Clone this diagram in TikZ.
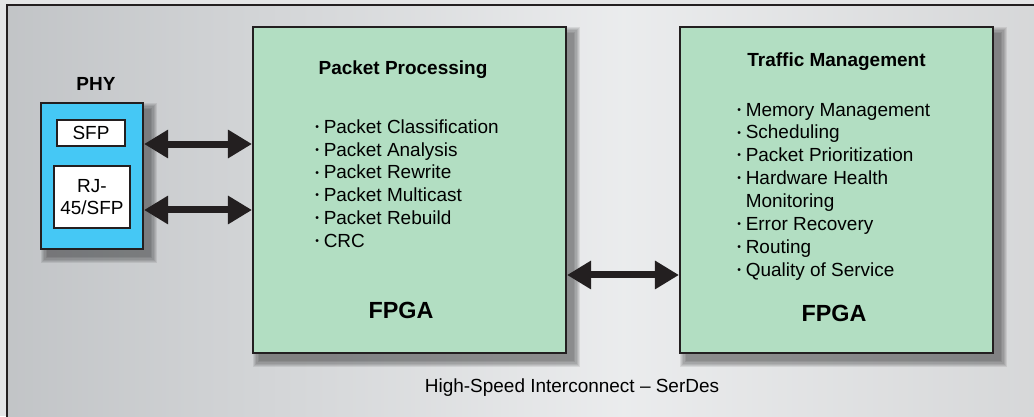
\documentclass[tikz,border=0pt]{standalone}
\usepackage{fontspec}
\setmainfont{Liberation Sans}
\usetikzlibrary{arrows.meta}
\definecolor{phyblue}{RGB}{69,200,245}
\definecolor{fpgagreen}{RGB}{178,222,194}
\definecolor{edge}{RGB}{35,31,32}
\definecolor{bgout}{RGB}{228,229,230}
\pgfdeclarehorizontalshading{panel}{100bp}{rgb(0bp)=(0.76,0.77,0.78); rgb(25bp)=(0.76,0.77,0.78);
  rgb(55bp)=(0.92,0.925,0.93); rgb(75bp)=(0.84,0.845,0.85); rgb(100bp)=(0.84,0.845,0.85)}
\pgfdeclarelayer{back}
\pgfdeclarelayer{shadow}
\pgfsetlayers{back,shadow,main}
\newcommand{\itm}{\raisebox{0.15em}{\scalebox{0.55}{\textbullet}}\hspace{0.25em}}

\begin{document}
\begin{tikzpicture}[x=0.02cm,y=-0.02cm,
  font=\fontsize{10.8}{13}\selectfont,
  box/.style={draw=edge,line width=1.2pt,fill=fpgagreen,minimum width=6.26cm,minimum height=6.52cm},
  phybox/.style={draw=edge,line width=1.2pt,fill=phyblue},
  portbox/.style={draw=edge,line width=1pt,fill=white,inner sep=0pt},
  title/.style={font=\bfseries\fontsize{10.8}{13}\selectfont},
  chip/.style={font=\bfseries\fontsize{13.3}{16}\selectfont},
  list/.style={align=left,inner sep=0pt,anchor=west},
  softshadow/.style={fill=black,opacity=0.08},
  biarrow/.style={draw=edge,line width=0.14cm,{Triangle[length=0.48cm,width=0.54cm]}-{Triangle[length=0.48cm,width=0.54cm]}}]
  \useasboundingbox (0,0) rectangle (1034,416);
  \begin{pgfonlayer}{back}
    \fill[bgout] (0,0) rectangle (1034,416);
    \shade[shading=panel] (7,5) rectangle (1034,416);
  \end{pgfonlayer}
  \draw[edge,line width=1.1pt] (7,430) -- (7,5) -- (1050,5);

  % PHY
  \node[phybox,minimum width=2.04cm,minimum height=2.92cm] (phy) at (92,176) {};
  \node[title] (phylabel) at (96,84) {PHY};
  \node[portbox,minimum width=1.36cm,minimum height=0.52cm] (sfp) at (91,133) {SFP};
  \node[portbox,minimum width=1.52cm,minimum height=1.24cm,align=center] (rj) at (92,197) {RJ-\\45/SFP};

  % FPGA blocks
  \node[box] (pp) at (409.5,190) {};
  \node[box] (tm) at (836.5,190) {};

  \node[title] (pptitle) at (403,70) {Packet Processing};
  \node[list] (pplist) at (315,183.5) {\itm Packet Classification\\
    \itm Packet Analysis\\
    \itm Packet Rewrite\\
    \itm Packet Multicast\\
    \itm Packet Rebuild\\
    \itm CRC};
  \node[chip] (ppchip) at (401,310) {FPGA};

  \node[title] (tmtitle) at (836.5,62) {Traffic Management};
  \node[list] (tmlist) at (737,191.5) {\itm Memory Management\\
    \itm Scheduling\\
    \itm Packet Prioritization\\
    \itm Hardware Health\\
    \phantom{\itm}Monitoring\\
    \itm Error Recovery\\
    \itm Routing\\
    \itm Quality of Service};
  \node[chip] (tmchip) at (834,313) {FPGA};

  \node (serdes) at (572,388) {High-Speed Interconnect – SerDes};

  % shadows
  \begin{pgfonlayer}{shadow}
    \foreach \n in {phy,pp,tm}
      \foreach \s in {0,...,5}
        \fill[softshadow] ([shift={(0.14cm-\s*0.025cm,-0.14cm-\s*0.025cm)}]\n.south west)
          rectangle ([shift={(0.14cm+\s*0.025cm,-0.14cm+\s*0.025cm)}]\n.north east);
  \end{pgfonlayer}

  % links
  \coordinate (a1) at ([yshift=0.64cm]phy.east);
  \coordinate (a2) at ([yshift=-0.68cm]phy.east);
  \coordinate (a3) at ([yshift=-1.7cm]pp.east);
  \draw[biarrow] (a1) -- (a1 -| pp.west);
  \draw[biarrow] (a2) -- (a2 -| pp.west);
  \draw[biarrow] (a3) -- (a3 -| tm.west);
\end{tikzpicture}
\end{document}
